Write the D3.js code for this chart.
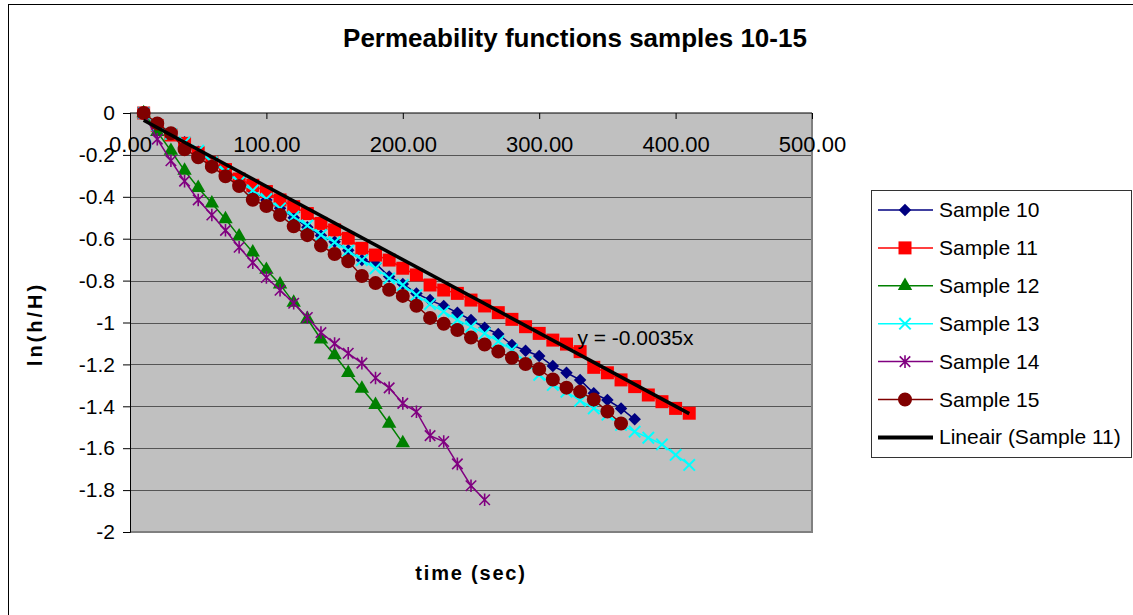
<!DOCTYPE html>
<html><head><meta charset="utf-8">
<script src="https://cdn.jsdelivr.net/npm/d3@7"></script>
<style>
body{margin:0;background:#fff}
svg{display:block}
text{font-family:"Liberation Sans",Arial,sans-serif;fill:#000}
</style>
</head><body>
<svg id="chart" width="1133" height="615"></svg>
<script>
// ---------- DATA ----------
const timeSec = [10,20,30,40,50,60,70,80,90,100,110,120,130,140,150,160,170,180,190,200,
  210,220,230,240,250,260,270,280,290,300,310,320,330,340,350,360,370,380,390,400,410];

const sample10 = [0,-0.06,-0.1,-0.14,-0.185,-0.235,-0.28,-0.325,-0.37,-0.415,-0.455,-0.5,-0.545,-0.585,
  -0.615,-0.655,-0.702,-0.718,-0.781,-0.816,-0.861,-0.893,-0.921,-0.953,-0.988,-1.025,-1.055,-1.107,
  -1.135,-1.16,-1.208,-1.24,-1.274,-1.338,-1.37,-1.41,-1.462];
const sample11 = [0,-0.06,-0.105,-0.145,-0.19,-0.235,-0.27,-0.315,-0.345,-0.375,-0.415,-0.447,-0.48,
  -0.527,-0.558,-0.598,-0.646,-0.678,-0.702,-0.741,-0.773,-0.821,-0.845,-0.861,-0.893,-0.921,-0.953,
  -0.985,-1.02,-1.052,-1.084,-1.103,-1.139,-1.214,-1.24,-1.274,-1.306,-1.346,-1.378,-1.41,-1.433];
const sample12 = [0,-0.09,-0.18,-0.275,-0.357,-0.431,-0.506,-0.589,-0.665,-0.748,-0.818,-0.905,-0.982,
  -1.08,-1.155,-1.24,-1.315,-1.393,-1.483,-1.576];
const sample13 = [0,-0.06,-0.1,-0.14,-0.18,-0.235,-0.28,-0.33,-0.37,-0.41,-0.455,-0.495,-0.537,-0.582,
  -0.617,-0.657,-0.702,-0.741,-0.789,-0.821,-0.869,-0.912,-0.948,-0.988,-1.02,-1.052,-1.09,-1.13,
  -1.19,-1.25,-1.298,-1.33,-1.373,-1.41,-1.44,-1.489,-1.521,-1.55,-1.582,-1.632,-1.68];
const sample14 = [0,-0.125,-0.228,-0.325,-0.415,-0.487,-0.56,-0.641,-0.714,-0.785,-0.846,-0.908,-0.976,
  -1.048,-1.101,-1.147,-1.194,-1.265,-1.312,-1.386,-1.426,-1.54,-1.568,-1.675,-1.779,-1.846];
const sample15 = [0,-0.05,-0.097,-0.173,-0.211,-0.256,-0.302,-0.349,-0.414,-0.444,-0.487,-0.541,-0.583,
  -0.633,-0.673,-0.708,-0.778,-0.812,-0.844,-0.873,-0.92,-0.978,-1.006,-1.036,-1.072,-1.105,-1.139,
  -1.168,-1.198,-1.222,-1.272,-1.311,-1.33,-1.368,-1.425,-1.482];

const seriesNames = ["Sample 10","Sample 11","Sample 12","Sample 13","Sample 14","Sample 15"];
const seriesColors = ["#000080","#FF0000","#008000","#00FFFF","#800080","#800000"];
const trendName = "Lineair (Sample 11)";
const trendSlope = -0.0035;
const trendEquation = "y = -0.0035x";
const xTickValues = [0,100,200,300,400,500];
const yTickValues = [0,-0.2,-0.4,-0.6,-0.8,-1,-1.2,-1.4,-1.6,-1.8,-2];
const chartTitle = "Permeability functions samples 10-15";
const xTitle = "time (sec)";
const yTitle = "ln(h/H)";

// ---------- SETUP ----------
const svg = d3.select("#chart");
const plot = {left:130, top:113, right:812, bottom:532};
const x = d3.scaleLinear().domain([0,500]).range([plot.left, plot.right]);
const y = d3.scaleLinear().domain([-2,0]).range([plot.bottom, plot.top]);

// outer chart border
svg.append("rect").attr("x",8.5).attr("y",4.5).attr("width",1140).attr("height",640)
  .attr("fill","#fff").attr("stroke","#000").attr("stroke-width",1);

// plot area
svg.append("rect").attr("x",plot.left).attr("y",plot.top)
  .attr("width",plot.right-plot.left).attr("height",plot.bottom-plot.top)
  .attr("fill","#C0C0C0");

// gridlines
svg.append("g").selectAll("line").data(yTickValues.filter(d=>d!==0)).join("line")
  .attr("x1",plot.left).attr("x2",plot.right)
  .attr("y1",d=>Math.round(y(d))+0.5).attr("y2",d=>Math.round(y(d))+0.5)
  .attr("stroke","#555").attr("stroke-width",1);

// plot right & bottom border
svg.append("path")
  .attr("d",`M${plot.right},${plot.top}V${plot.bottom}H${plot.left}`)
  .attr("fill","none").attr("stroke","#808080").attr("stroke-width",2);

// y axis
const yAxis = d3.axisLeft(y).tickValues(yTickValues).tickSize(7).tickPadding(8)
  .tickFormat(d=>String(+d.toFixed(1)));
const gy = svg.append("g").attr("transform",`translate(${plot.left},0)`).call(yAxis);
gy.select(".domain").attr("stroke","#000");
gy.selectAll(".tick line").attr("stroke","#000");
gy.selectAll("text").style("font-size","21px").attr("fill","#000");

// x axis at top (y=0), labels below
const xAxis = d3.axisBottom(x).tickValues(xTickValues).tickSize(6).tickPadding(17)
  .tickFormat(d3.format(".2f"));
const gx = svg.append("g").attr("transform",`translate(0,${y(0)})`).call(xAxis);
gx.select(".domain").attr("stroke","#000").attr("d",`M${plot.left},0H${plot.right}`);
gx.selectAll(".tick line").attr("stroke","#000");
gx.selectAll("text").style("font-size","22px").attr("fill","#000");

// ---------- SERIES ----------
const symDiamond = {draw(ctx,size){const r=Math.sqrt(size)/2;ctx.moveTo(0,-r);ctx.lineTo(r,0);ctx.lineTo(0,r);ctx.lineTo(-r,0);ctx.closePath();}};
const symX = {draw(ctx,size){const r=Math.sqrt(size)/2;ctx.moveTo(-r,-r);ctx.lineTo(r,r);ctx.moveTo(r,-r);ctx.lineTo(-r,r);}};
const symAst = {draw(ctx,size){const r=Math.sqrt(size)/2;ctx.moveTo(-r,-r);ctx.lineTo(r,r);ctx.moveTo(r,-r);ctx.lineTo(-r,r);ctx.moveTo(0,-r*1.2);ctx.lineTo(0,r*1.2);}};
const markers = [
  {type:symDiamond, size:156, filled:true},
  {type:d3.symbolSquare, size:169, filled:true},
  {type:d3.symbolTriangle, size:90, filled:true},
  {type:symX, size:130, filled:false, sw:2},
  {type:symAst, size:110, filled:false, sw:1.6},
  {type:d3.symbolCircle, size:154, filled:true}
];
const allSeries = [sample10,sample11,sample12,sample13,sample14,sample15];
const line = d3.line().x(d=>x(d.t)).y(d=>y(d.v));

allSeries.forEach((vals,i)=>{
  const pts = vals.map((v,j)=>({t:timeSec[j], v}));
  const g = svg.append("g");
  g.append("path").datum(pts).attr("d",line).attr("fill","none")
    .attr("stroke",seriesColors[i]).attr("stroke-width",1.5);
  const m = markers[i];
  g.selectAll("path.m").data(pts).join("path").attr("class","m")
    .attr("transform",d=>`translate(${x(d.t)},${y(d.v)})`)
    .attr("d",d3.symbol().type(m.type).size(m.size))
    .attr("fill",m.filled?seriesColors[i]:"none")
    .attr("stroke",m.filled?"none":seriesColors[i])
    .attr("stroke-width",m.sw||0);
});

// trendline
const tExt = d3.extent(timeSec);
svg.append("line")
  .attr("x1",x(tExt[0])).attr("y1",y(trendSlope*tExt[0]))
  .attr("x2",x(tExt[1])).attr("y2",y(trendSlope*tExt[1]))
  .attr("stroke","#000").attr("stroke-width",3.5);
svg.append("text").attr("x",x(328)).attr("y",y(-1.107))
  .style("font-size","21px").text(trendEquation);

// ---------- TITLES ----------
svg.append("text").attr("x",575).attr("y",47).attr("text-anchor","middle")
  .style("font-size","26px").style("font-weight","bold").text(chartTitle);
svg.append("text").attr("x",471).attr("y",580).attr("text-anchor","middle")
  .style("font-size","20px").style("font-weight","bold").style("letter-spacing","1.8px").text(xTitle);
svg.append("text").attr("transform","translate(42,324) rotate(-90)").attr("text-anchor","middle")
  .style("font-size","20px").style("font-weight","bold").style("letter-spacing","3px").text(yTitle);

// ---------- LEGEND ----------
const lg = svg.append("g");
lg.append("rect").attr("x",871.5).attr("y",190.5).attr("width",260).attr("height",267)
  .attr("fill","#fff").attr("stroke","#333").attr("stroke-width",1);
const legendItems = seriesNames.map((n,i)=>({name:n,color:seriesColors[i],marker:markers[i]}));
legendItems.push({name:trendName,color:"#000",marker:null});
legendItems.forEach((it,i)=>{
  const cy = 210 + i*37.9;
  lg.append("line").attr("x1",878).attr("x2",933).attr("y1",cy).attr("y2",cy)
    .attr("stroke",it.color).attr("stroke-width",it.marker?1.5:4);
  if(it.marker){
    lg.append("path").attr("transform",`translate(905,${cy})`)
      .attr("d",d3.symbol().type(it.marker.type).size(it.marker.size))
      .attr("fill",it.marker.filled?it.color:"none")
      .attr("stroke",it.marker.filled?"none":it.color)
      .attr("stroke-width",it.marker.sw||0);
  }
  lg.append("text").attr("x",939).attr("y",cy+7).style("font-size","21px").text(it.name);
});
</script>
</body></html>
